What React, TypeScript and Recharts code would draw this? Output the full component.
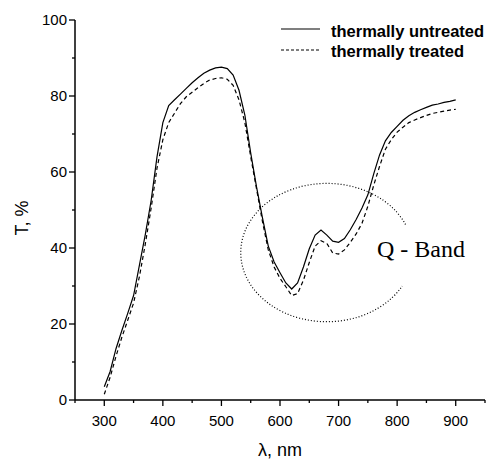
import { LineChart, Line, XAxis, YAxis, Legend, Customized } from 'recharts';

// wavelength, nm
const lambda = [
  300, 310, 320, 330, 340, 350, 360, 370, 380, 390,
  400, 410, 420, 430, 440, 450, 460, 470, 480, 490,
  500, 510, 520, 530, 540, 550, 560, 570, 580, 590,
  600, 610, 620, 630, 640, 650, 660, 670, 680, 690,
  700, 710, 720, 730, 740, 750, 760, 770, 780, 790,
  800, 810, 820, 830, 840, 850, 860, 870, 880, 890, 900,
];

// T, %
const untreated = [
  3.5, 7.5, 13.5, 18.3, 22.8, 27.5, 35.5, 43.5, 52.5, 64,
  73, 77.5, 79, 80.5, 82, 83.5, 84.8, 86, 86.8, 87.4,
  87.6, 87.2, 85.5, 81.5, 75, 65, 56, 48, 40.5, 36.3,
  33.5, 30.8, 29.2, 30.8, 35, 39.8, 43.4, 44.7, 43.4, 41.8,
  41.5, 42.5, 44.8, 47.5, 50.5, 54, 59.5, 64.5, 68.2, 70.4,
  72, 73.6, 74.8, 75.7, 76.4, 77, 77.6, 77.9, 78.3, 78.6, 79,
];

const treated = [
  1.5, 6, 11.5, 16.5, 21, 25.5, 32.5, 41, 50.5, 61,
  68.5, 73, 75.5, 78, 79.8, 81, 82.2, 83.3, 84.2, 84.6,
  84.8, 84.4, 82.8, 79, 73, 64, 55.5, 47, 39.5, 35,
  32, 29.8, 27.5, 28, 31.5, 36.2, 40.5, 41.9, 41.2, 38.7,
  38.4, 39.5, 41.5, 43.7, 46.5, 51, 56.5, 61.5, 66, 68.5,
  70.5, 71.8, 73, 73.7, 74.3, 74.9, 75.4, 75.7, 76, 76.3, 76.5,
];

const xTicks = [250, 300, 350, 400, 450, 500, 550, 600, 650, 700, 750, 800, 850, 900, 950];
const yTicks = [0, 10, 20, 30, 40, 50, 60, 70, 80, 90, 100];

const data = lambda.map((l, i) => ({ lambda: l, untreated: untreated[i], treated: treated[i] }));

const W = 491;
const H = 459;
const PLOT = { left: 75, top: 20, width: 410, height: 380 };
const X_DOMAIN = [250, 950];
const Y_DOMAIN = [0, 100];
const sx = (v: number) => PLOT.left + ((v - X_DOMAIN[0]) / (X_DOMAIN[1] - X_DOMAIN[0])) * PLOT.width;
const sy = (v: number) => PLOT.top + PLOT.height - ((v - Y_DOMAIN[0]) / (Y_DOMAIN[1] - Y_DOMAIN[0])) * PLOT.height;

const FONT = '"Liberation Sans", Arial, sans-serif';
const DASH = '4 3';

const XTick = ({ x, y, payload }: any) => {
  const v = payload.value;
  const major = v % 100 === 0;
  return (
    <g>
      <line x1={x} x2={x} y1={y} y2={y + (major ? 6 : 3)} stroke="#000" strokeWidth={1.3} />
      {major && (
        <text x={x} y={y + 26} textAnchor="middle" fontSize={15} fontFamily={FONT} fill="#000">
          {v}
        </text>
      )}
    </g>
  );
};

const YTick = ({ x, y, payload }: any) => {
  const v = payload.value;
  const major = v % 20 === 0;
  return (
    <g>
      <line x1={x - (major ? 6 : 3)} x2={x} y1={y} y2={y} stroke="#000" strokeWidth={1.3} />
      {major && (
        <text x={x - 8} y={y + 5} textAnchor="end" fontSize={15} fontFamily={FONT} fill="#000">
          {v}
        </text>
      )}
    </g>
  );
};

const renderLegend = () => (
  <svg width={215} height={46} style={{ display: 'block' }}>
    <line x1={3} x2={42} y1={13} y2={13} stroke="#000" strokeWidth={1.2} />
    <text x={53} y={20.5} fontSize={16.5} fontWeight="bold" fontFamily={FONT}>thermally untreated</text>
    <line x1={3} x2={42} y1={34} y2={34} stroke="#000" strokeWidth={1.2} strokeDasharray="3 2" />
    <text x={53} y={40.5} fontSize={16.5} fontWeight="bold" fontFamily={FONT}>thermally treated</text>
  </svg>
);

// Q-band annotation, in data units
const Q_CENTER = { lambda: 680, t: 38.8 };
const Q_RADIUS = { lambda: 147, t: 18.2 };

const Annotations = () => {
  const cx = sx(Q_CENTER.lambda);
  const cy = sy(Q_CENTER.t);
  const rx = sx(Q_CENTER.lambda + Q_RADIUS.lambda) - cx;
  const ry = cy - sy(Q_CENTER.t + Q_RADIUS.t);
  const a0 = (-24 * Math.PI) / 180;
  const a1 = (29 * Math.PI) / 180;
  const p0 = [cx + rx * Math.cos(a0), cy + ry * Math.sin(a0)];
  const p1 = [cx + rx * Math.cos(a1), cy + ry * Math.sin(a1)];
  return (
    <g>
      <path
        d={`M${p0[0]},${p0[1]} A${rx},${ry} 0 1 0 ${p1[0]},${p1[1]}`}
        fill="none"
        stroke="#000"
        strokeWidth={1.2}
        strokeDasharray="1 2"
      />
      <text x={377} y={257} fontSize={24} fontFamily='"Liberation Serif", "Times New Roman", serif' fill="#000">
        Q - Band
      </text>
      <text
        x={28}
        y={218}
        transform="rotate(-90, 28, 218)"
        textAnchor="middle"
        fontSize={18}
        fontFamily={FONT}
        fill="#000"
      >
        T, %
      </text>
      <text x={280} y={456} textAnchor="middle" fontSize={18} fontFamily={FONT} fill="#000">
        λ, nm
      </text>
    </g>
  );
};

export default function App() {
  return (
    <div style={{ position: 'absolute', left: 0, top: 0, width: W, height: H, background: '#fff' }}>
      <LineChart width={W} height={H} data={data} margin={{ top: 20, right: 6, bottom: 19, left: 15 }}>
        <XAxis
          type="number"
          dataKey="lambda"
          domain={X_DOMAIN}
          ticks={xTicks}
          interval={0}
          height={40}
          tickSize={0}
          tickMargin={0}
          tickLine={false}
          tick={<XTick />}
          axisLine={{ stroke: '#000', strokeWidth: 1.5 }}
          allowDataOverflow
        />
        <YAxis
          type="number"
          domain={Y_DOMAIN}
          ticks={yTicks}
          interval={0}
          width={60}
          tickSize={0}
          tickMargin={0}
          tickLine={false}
          tick={<YTick />}
          axisLine={{ stroke: '#000', strokeWidth: 1.5 }}
          allowDataOverflow
        />
        <Legend
          layout="vertical"
          align="center"
          verticalAlign="middle"
          content={renderLegend}
          wrapperStyle={{ top: 16, left: 278, width: 215, height: 46 }}
        />
        <Line
          type="linear"
          dataKey="untreated"
          name="thermally untreated"
          stroke="#000"
          strokeWidth={1.2}
          dot={false}
          isAnimationActive={false}
        />
        <Line
          type="linear"
          dataKey="treated"
          name="thermally treated"
          stroke="#000"
          strokeWidth={1.2}
          strokeDasharray={DASH}
          dot={false}
          isAnimationActive={false}
        />
        <Customized component={<Annotations />} />
      </LineChart>
    </div>
  );
}
